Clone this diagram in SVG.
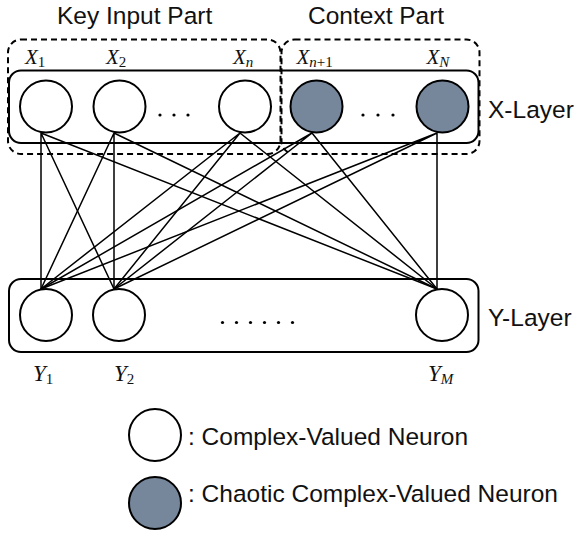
<svg xmlns="http://www.w3.org/2000/svg" width="578" height="536" viewBox="0 0 578 536">
<style>
.lbl{font-family:"Liberation Sans",Arial,sans-serif;font-size:24.5px;fill:#111}
.math{font-family:"Liberation Serif","Times New Roman",serif;font-style:italic;fill:#111}
.up{font-style:normal}
.n{stroke:#000;stroke-width:2;fill:#fff}
.c{fill:#76869b}
.box{fill:none;stroke:#000;stroke-width:2}
.dash{fill:none;stroke:#000;stroke-width:2;stroke-dasharray:6 4}
.dot{fill:#000}
</style>
<rect width="578" height="536" fill="#fff"/>
<text class="lbl" x="57" y="24">Key Input Part</text>
<text class="lbl" x="308" y="24">Context Part</text>
<g id="x-layer">
<rect class="box" x="9" y="70.5" width="469.5" height="72.5" rx="12"/>
<text class="lbl" x="488" y="118">X-Layer</text>
</g>
<g id="key-input-part"><rect class="dash" x="8" y="39.5" width="272.5" height="114.5" rx="13"/></g>
<g id="context-part"><rect class="dash" x="281.5" y="39.5" width="198" height="114.5" rx="13"/></g>
<g id="y-layer">
<rect class="box" x="9" y="279" width="469.5" height="73" rx="12"/>
<text class="lbl" x="488" y="326">Y-Layer</text>
</g>
<g id="connectors" stroke="#000" stroke-width="1.5" fill="none">
<path d="M41 133L41 289M41 133L114 289M41 133L437 289"/>
<path d="M114 133L41 289M114 133L114 289M114 133L437 289"/>
<path d="M240 133L41 289M240 133L114 289M240 133L437 289"/>
<path d="M312 133L41 289M312 133L114 289M312 133L437 289"/>
<path d="M437 133L41 289M437 133L114 289M437 133L437 289"/>
</g>
<g id="x1"><circle class="n" cx="46" cy="106.5" r="26"/><text class="math" x="25" y="64" font-size="21">X<tspan class="up" font-size="15" dy="3">1</tspan></text></g>
<g id="x2"><circle class="n" cx="119.5" cy="106.5" r="26"/><text class="math" x="106" y="64" font-size="21">X<tspan class="up" font-size="15" dy="3">2</tspan></text></g>
<g id="x-dots"><circle class="dot" cx="160" cy="115" r="1.6"/><circle class="dot" cx="174" cy="115" r="1.6"/><circle class="dot" cx="188" cy="115" r="1.6"/></g>
<g id="xn"><circle class="n" cx="245" cy="106.5" r="26"/><text class="math" x="233" y="64" font-size="21">X<tspan font-size="15" dy="3">n</tspan></text></g>
<g id="xn1"><circle class="n c" cx="316.5" cy="106.5" r="26"/><text class="math" x="296.5" y="64" font-size="21">X<tspan font-size="15" dy="3">n</tspan><tspan class="up" font-size="15">+1</tspan></text></g>
<g id="xc-dots"><circle class="dot" cx="363" cy="115" r="1.6"/><circle class="dot" cx="378" cy="115" r="1.6"/><circle class="dot" cx="393" cy="115" r="1.6"/></g>
<g id="xN"><circle class="n c" cx="442.5" cy="106.5" r="26"/><text class="math" x="426.5" y="64" font-size="21">X<tspan font-size="15" dy="3">N</tspan></text></g>
<g id="y1"><circle class="n" cx="46" cy="315" r="26"/><text class="math" x="33" y="381" font-size="23">Y<tspan class="up" font-size="15" dy="3">1</tspan></text></g>
<g id="y2"><circle class="n" cx="119" cy="315" r="26"/><text class="math" x="114" y="381" font-size="23">Y<tspan class="up" font-size="15" dy="3">2</tspan></text></g>
<g id="y-dots"><circle class="dot" cx="222.5" cy="322.5" r="1.6"/><circle class="dot" cx="236.5" cy="322.5" r="1.6"/><circle class="dot" cx="250.5" cy="322.5" r="1.6"/><circle class="dot" cx="264.5" cy="322.5" r="1.6"/><circle class="dot" cx="278.5" cy="322.5" r="1.6"/><circle class="dot" cx="292.5" cy="322.5" r="1.6"/></g>
<g id="yM"><circle class="n" cx="442" cy="315" r="26"/><text class="math" x="428" y="381" font-size="23">Y<tspan font-size="15" dy="3">M</tspan></text></g>
<g id="legend-complex"><circle class="n" cx="155" cy="435" r="26"/><text class="lbl" x="188" y="445">: Complex-Valued Neuron</text></g>
<g id="legend-chaotic"><circle class="n c" cx="155" cy="503" r="26"/><text class="lbl" x="188" y="502">: Chaotic Complex-Valued Neuron</text></g>
</svg>
